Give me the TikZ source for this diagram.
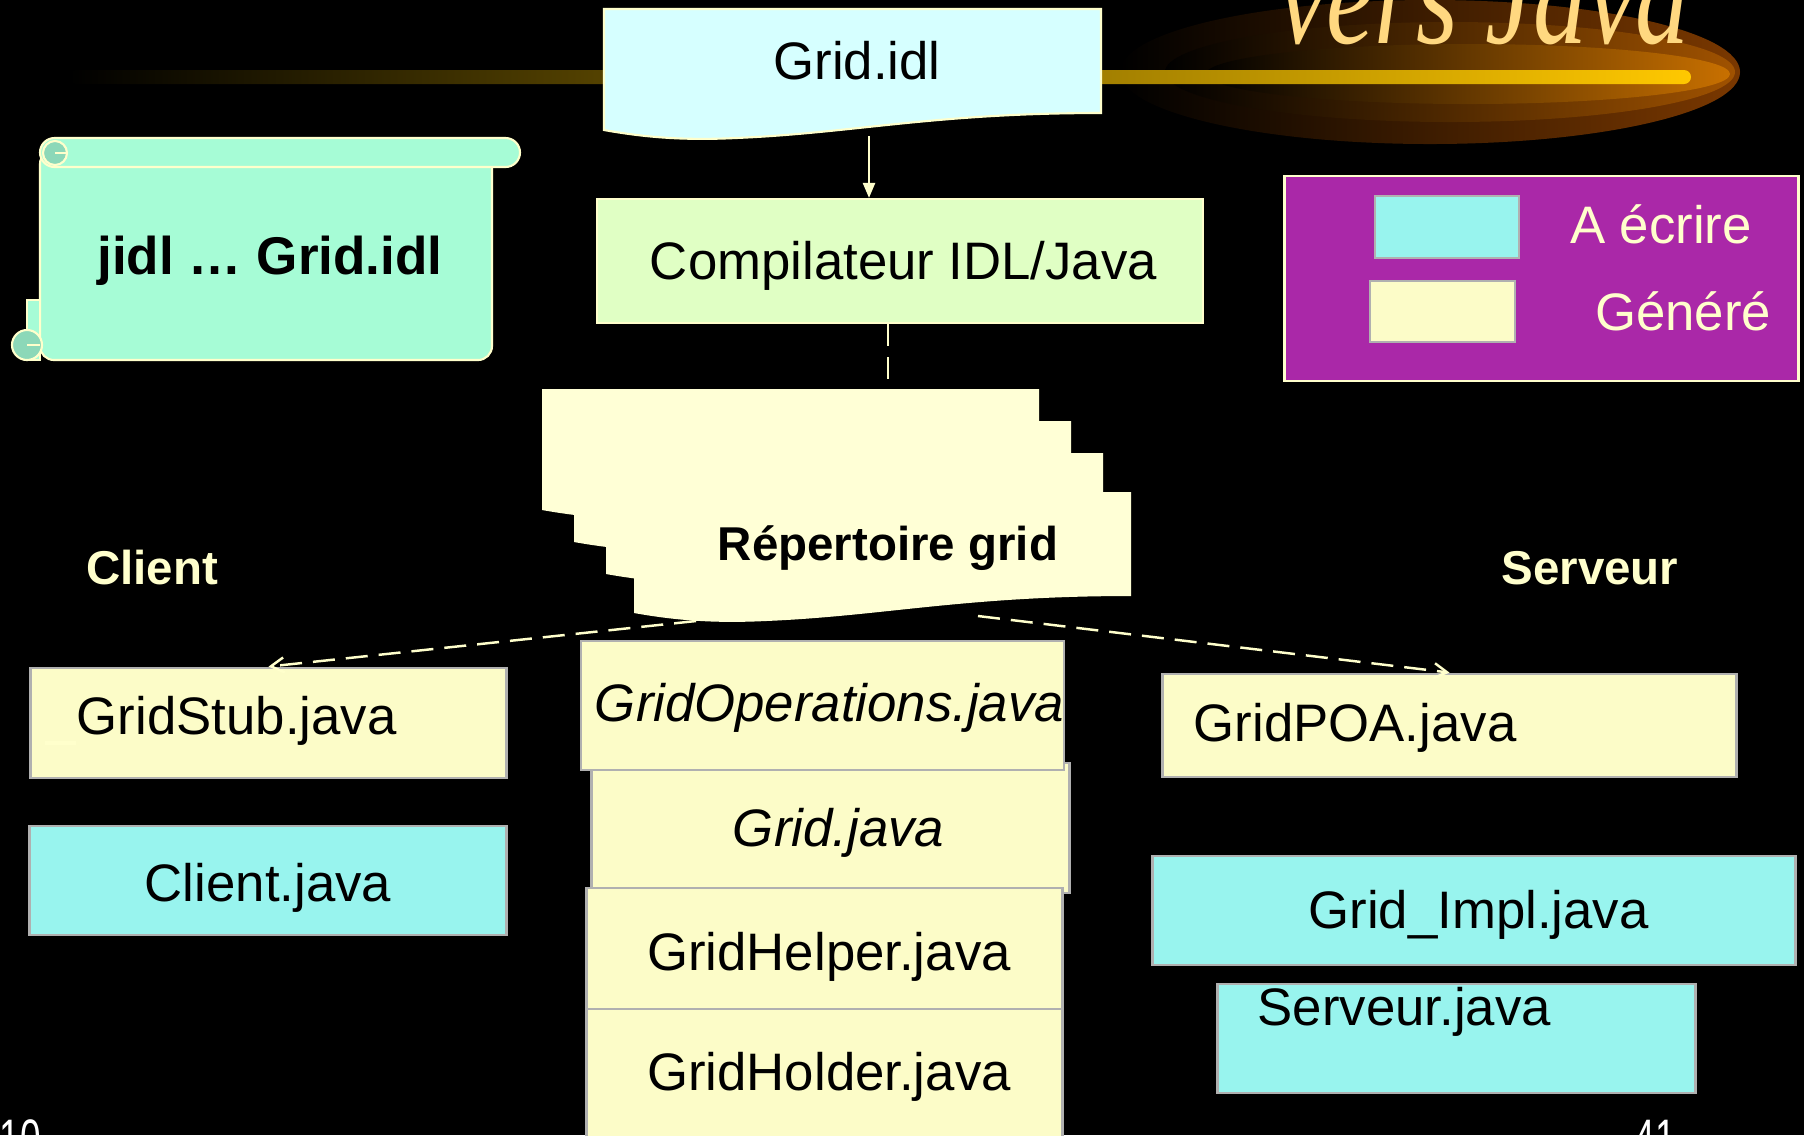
\documentclass[tikz,border=0pt]{standalone}
\usepackage{fontspec}
\setmainfont{Liberation Sans}
\newfontfamily\titlefont{Liberation Serif}
\usetikzlibrary{arrows.meta, positioning, calc}

\definecolor{cream}{HTML}{FFFFCC}
\definecolor{idlcyan}{HTML}{D6FFFF}
\definecolor{compgreen}{HTML}{E0FFC4}
\definecolor{mint}{HTML}{A6FCD6}
\definecolor{mintdark}{HTML}{8CD8B8}
\definecolor{legendpurple}{HTML}{AA28A8}
\definecolor{writecyan}{HTML}{98F4EE}
\definecolor{genyellow}{HTML}{FCFCC8}
\definecolor{sheetyellow}{HTML}{FFFFD6}
\definecolor{boxgray}{HTML}{B0B0B0}
\definecolor{gold}{HTML}{FFC800}
\definecolor{titlegold}{HTML}{FFD880}
\definecolor{glowa}{HTML}{7A3800}
\definecolor{glowb}{HTML}{A05200}
\definecolor{glowc}{HTML}{C87000}

\tikzset{
  pics/docsheet/.style={code={
    \path[pic actions] (0,0) -- (497,0) -- (497,104)
      .. controls (330,104) and (250,124) .. (132,129)
      .. controls (90,131) and (50,130) .. (0,121) -- cycle;
  }}
}

\begin{document}
\begin{tikzpicture}[
  x=0.01cm, y=-0.01cm,
  big/.style={font=\fontsize{15}{18}\selectfont},
  cmdtext/.style={font=\fontsize{15.1}{18}\selectfont\bfseries},
  head/.style={font=\fontsize{13.5}{16}\selectfont\bfseries, text=cream},
  filebox/.style={draw=boxgray, line width=0.8pt, inner sep=0pt, big},
  written/.style={filebox, fill=writecyan},
  generated/.style={filebox, fill=genyellow},
  link/.style={cream, line width=0.7pt, -{Triangle[length=1.5mm, width=1.2mm]}},
  dashlink/.style={cream, line width=0.7pt, dash pattern=on 2.2mm off 1.1mm},
  dasharrow/.style={dashlink, -{Straight Barb[length=1.3mm, width=1.5mm]}},
  pagenum/.style={big, text=white, anchor=north west, inner sep=0pt, xscale=0.7}
]
\useasboundingbox (0,0) rectangle (1804,1135);
\fill[black] (0,0) rectangle (1804,1135);
\clip (0,0) rectangle (1804,1135);

% title band
\shade[left color=black, right color=glowa] (1430,72) ellipse [x radius=310, y radius=72];
\shade[left color=black, right color=glowb] (1450,72) ellipse [x radius=285, y radius=50];
\shade[left color=black, right color=glowc] (1468,74) ellipse [x radius=262, y radius=30];
\shade[left color=black, right color=gold, rounded corners=0.7mm] (69,70) rectangle (1691,84);
\node[font=\titlefont\itshape\fontsize{30.7}{32}\selectfont, text=titlegold, yscale=1.3, anchor=base] (title) at (1484,43) {vers Java};

% idl file and compiler
\pic[fill=idlcyan, draw=cream, line width=0.6pt] at (604,9) {docsheet};
\node[big] (idl) at (857,61) {Grid.idl};
\node[draw=cream, line width=0.6pt, fill=compgreen, big, inner sep=0pt, text height=13.5pt,
  minimum width=60.6mm, minimum height=12.4mm] (comp) at (900,261) {\hspace{0.07cm}Compilateur IDL/Java};
\coordinate (idlfoot) at (869,136);
\draw[link] (idlfoot) -- (idlfoot |- comp.north);

% generated directory
\foreach \dx/\dy in {542/389, 574/421, 606/453, 634/492}
  \pic[fill=sheetyellow] at (\dx,\dy) {docsheet};
\node[font=\fontsize{13.5}{16}\selectfont\bfseries] (rep) at (888,548.5) {Répertoire grid};
\coordinate (stacktop) at (888,389);
\draw[dashlink] (stacktop |- comp.south) -- (stacktop);

% command scroll
\filldraw[fill=mint, draw=cream, line width=0.6pt, rounded corners=1.4mm] (40,150) rectangle (492,360);
\filldraw[fill=mint, draw=cream, line width=0.6pt] (40,300) -- (40,360) -- (27,360) -- (27,300) -- cycle;
\filldraw[fill=mint, draw=cream, line width=0.6pt, rounded corners=1.45mm] (40,138) rectangle (520,167);
\filldraw[fill=mintdark, draw=cream, line width=0.6pt] (55,153) circle [radius=1.2mm];
\draw[cream, line width=0.6pt] (55,153) -- (67,153);
\filldraw[fill=mintdark, draw=cream, line width=0.6pt] (27,345) circle [radius=1.5mm];
\draw[cream, line width=0.6pt] (27,345) -- (40,345);
\node[cmdtext] (cmd) at (270,260.5) {jidl … Grid.idl};

% legend
\node[draw=cream, line width=0.8pt, fill=legendpurple, minimum width=51.3mm, minimum height=20.5mm] (legend) at (1541.5,278.5) {};
\node[written, minimum width=14.4mm, minimum height=6.2mm] (keyw) at (1447,227) {};
\node[generated, minimum width=14.5mm, minimum height=6.1mm] (keyg) at (1442.5,311.5) {};
\node[big, text=cream] (keywtxt) at (1661,224) {A écrire};
\node[big, text=cream] (keygtxt) at (1683,311) {Généré};

\node[head] (clientlbl) at (152,568) {Client};
\node[head] (serverlbl) at (1590,568) {Serveur};

% client side
\node[generated, minimum height=11mm, text width=38.3mm, inner xsep=4.6mm, align=left, text depth=4.5pt] (stub) at (268.5,723) {GridStub.java};
\draw[cream, line width=1pt] (45,743) -- (76,743);
\node[written, minimum width=47.6mm, minimum height=10.9mm, text height=14.85pt] (client) at (268,880.5) {Client.java};

% common files
\node[generated, minimum width=47.7mm, minimum height=13mm, text height=13.5pt] (gridj) at (830.5,828) {\hspace{0.16cm}\itshape Grid.java};
\node[generated, minimum width=47.7mm, minimum height=12.9mm, text height=12.3pt] (ops) at (822.5,705.5) {\hspace{0.14cm}\itshape GridOperations.java};
\node[generated, minimum width=47.5mm, minimum height=12.4mm, text height=14.85pt] (helper) at (824.5,950) {\hspace{0.09cm}GridHelper.java};
\node[generated, minimum width=47.5mm, minimum height=13.6mm] (holder) at (824.5,1077) {\hspace{0.09cm}GridHolder.java};

% server side
\node[generated, minimum height=10.3mm, text width=51.1mm, inner xsep=3.1mm, align=left, text height=12.3pt] (poa) at (1449.5,725.5) {GridPOA.java};
\node[written, minimum width=64.2mm, minimum height=10.9mm, text height=13.5pt] (impl) at (1474,910.5) {\hspace{0.09cm}Grid\_Impl.java};
\node[written, minimum width=47.7mm, minimum height=10.9mm] (srv) at (1456.5,1038.5) {};
\node[big, anchor=west, inner sep=0pt] (srvtxt) at (1257,1011.5) {Serveur.java};

\coordinate (repL) at (696,621);
\coordinate (repR) at (978,616);
\draw[dasharrow] (repL) -- (stub.north);
\draw[dasharrow] (repR) -- (poa.north);

\node[pagenum] (pageL) at (-1,1119) {10};
\node[pagenum] (pageR) at (1634,1119) {41};
\end{tikzpicture}
\end{document}
